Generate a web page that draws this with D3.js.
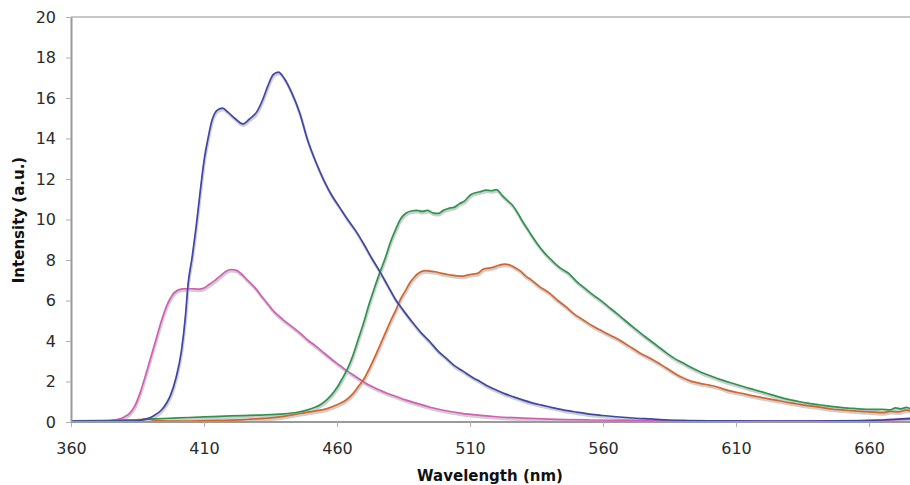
<!DOCTYPE html>
<html>
<head>
<meta charset="utf-8">
<script src="https://cdn.jsdelivr.net/npm/d3@7"></script>
<style>
  html, body { margin: 0; padding: 0; background: #fff; }
  svg { display: block; font-family: "DejaVu Sans", Verdana, sans-serif; }
</style>
</head>
<body>
<div id="chart"></div>
<script>
// tick labels
const xTicks = [360, 410, 460, 510, 560, 610, 660];
const yTicks = [0, 2, 4, 6, 8, 10, 12, 14, 16, 18, 20];

// series (wavelength nm, intensity a.u.)
const blueWl = [360, 370, 380, 384, 388, 391, 394, 396, 397.5, 399.5, 401.5, 403, 404, 405.5, 407, 408.5, 410, 411.5, 413, 415, 417, 419, 422, 424.5, 427, 430, 432, 434, 436, 438, 440, 443, 446, 449, 452, 455, 458, 461, 464, 467, 470, 473, 476, 479, 482, 485, 488.5, 492, 495, 498, 501, 504, 507.5, 511, 514, 517, 520, 523, 526, 530, 533, 537, 540, 545, 550, 555, 560, 565, 570, 578, 585, 590, 600, 620, 640, 655, 665, 676];
const blueI = [0.05, 0.05, 0.04, 0.05, 0.14, 0.3, 0.59, 0.95, 1.35, 2.2, 3.5, 5.2, 6.8, 8.1, 9.6, 11.3, 12.9, 14.0, 14.9, 15.4, 15.5, 15.3, 14.95, 14.72, 14.95, 15.35, 15.9, 16.6, 17.15, 17.28, 17.0, 16.25, 15.25, 13.9, 12.85, 11.95, 11.2, 10.6, 10.0, 9.45, 8.8, 8.1, 7.45, 6.75, 6.05, 5.5, 4.9, 4.35, 3.95, 3.5, 3.15, 2.8, 2.5, 2.2, 1.98, 1.75, 1.57, 1.4, 1.26, 1.08, 0.96, 0.83, 0.74, 0.6, 0.49, 0.39, 0.32, 0.26, 0.21, 0.15, 0.1, 0.08, 0.06, 0.05, 0.05, 0.06, 0.1, 0.18];

const pinkWl = [360, 370, 375, 378, 380, 382, 384, 386, 388, 390, 392, 394, 396, 398, 400, 402, 405, 408, 410, 412, 414, 416, 418, 420, 422, 424, 426, 428, 430, 432, 434, 436, 438, 440, 443, 446, 449, 452, 455, 458, 461, 464, 467, 470, 473, 476, 479, 482, 486, 490, 495, 500, 507, 514, 520, 530, 540, 555, 570, 590, 620, 645, 660, 676];
const pinkI = [0.02, 0.03, 0.07, 0.14, 0.25, 0.43, 0.8, 1.45, 2.3, 3.2, 4.1, 5.0, 5.75, 6.25, 6.5, 6.57, 6.58, 6.56, 6.62, 6.8, 6.98, 7.2, 7.42, 7.53, 7.5, 7.32, 7.05, 6.8, 6.5, 6.15, 5.83, 5.5, 5.25, 5.02, 4.72, 4.4, 4.05, 3.75, 3.42, 3.1, 2.8, 2.5, 2.25, 1.98, 1.76, 1.58, 1.41, 1.27, 1.08, 0.92, 0.73, 0.58, 0.43, 0.33, 0.26, 0.19, 0.14, 0.1, 0.08, 0.06, 0.05, 0.06, 0.08, 0.15];

const greenWl = [360, 370, 380, 385, 390, 400, 410, 420, 430, 440, 445, 449, 452, 454, 456, 458, 460, 462, 464, 466, 468, 470, 472, 474, 476, 478, 480, 482, 484, 486, 488, 490, 492, 494, 496, 498, 500, 502, 504, 506, 508, 510, 512, 514, 516, 518, 520, 522, 524, 526, 528, 530, 532, 535, 538, 541, 544, 547, 550, 553, 556, 559, 562, 565, 568, 571, 574, 577, 580, 584, 587, 590, 593, 596.5, 600, 603, 606, 609, 612, 615, 618, 621.5, 625, 628, 631, 634, 637, 640, 643, 646.5, 650, 653, 656, 659, 662, 665, 668, 670, 672, 674, 676];
const greenI = [0.06, 0.07, 0.09, 0.1, 0.15, 0.2, 0.25, 0.3, 0.34, 0.4, 0.48, 0.6, 0.74, 0.88, 1.08, 1.35, 1.7, 2.15, 2.65, 3.3, 4.1, 4.9, 5.8, 6.6, 7.35, 8.05, 8.85, 9.5, 10.05, 10.32, 10.42, 10.45, 10.4, 10.45, 10.33, 10.3, 10.45, 10.55, 10.6, 10.78, 10.92, 11.2, 11.32, 11.38, 11.45, 11.42, 11.48, 11.2, 10.95, 10.7, 10.3, 9.85, 9.45, 8.85, 8.35, 7.95, 7.6, 7.35, 6.95, 6.62, 6.3, 6.02, 5.7, 5.38, 5.05, 4.72, 4.4, 4.1, 3.8, 3.4, 3.13, 2.92, 2.7, 2.48, 2.3, 2.15, 2.02, 1.9, 1.78, 1.66, 1.55, 1.42, 1.28, 1.17, 1.08, 1.0, 0.93, 0.87, 0.82, 0.76, 0.71, 0.68, 0.65, 0.63, 0.62, 0.63, 0.6, 0.7, 0.65, 0.72, 0.62];

const orangeWl = [360, 370, 380, 386, 389, 392, 396, 405, 415, 425, 433, 440, 446, 452, 456, 460, 463, 466, 468, 470, 472, 474, 476, 478, 480, 482, 484, 486, 487.5, 489, 491, 493, 495, 497, 499, 501, 503, 505, 507, 509, 511, 513, 515, 517, 519, 521, 523, 525, 527, 529, 531, 533, 536, 540, 543, 546, 549, 552.6, 556, 559, 562, 565, 568, 571, 574, 577.7, 581, 584, 587, 590, 593, 596.5, 600, 603, 606, 609, 612, 615, 618, 621.5, 625, 628, 631, 634, 637, 640, 643, 646.5, 650, 653, 656, 659, 662, 665, 668, 671, 674, 676];
const orangeI = [0.04, 0.05, 0.08, 0.12, 0.14, 0.08, 0.04, 0.05, 0.08, 0.12, 0.18, 0.28, 0.42, 0.55, 0.65, 0.85, 1.05, 1.4, 1.75, 2.1, 2.6, 3.15, 3.75, 4.35, 4.95, 5.5, 6.1, 6.55, 6.9, 7.15, 7.38, 7.48, 7.45, 7.42, 7.35, 7.3, 7.25, 7.22, 7.2, 7.25, 7.3, 7.35, 7.55, 7.6, 7.65, 7.75, 7.8, 7.75, 7.62, 7.45, 7.2, 7.02, 6.7, 6.35, 6.0, 5.7, 5.35, 5.04, 4.75, 4.54, 4.33, 4.13, 3.9, 3.65, 3.4, 3.15, 2.9, 2.65, 2.4, 2.18, 2.02, 1.91, 1.82, 1.73, 1.6, 1.5, 1.42, 1.33, 1.25, 1.17, 1.08, 1.0, 0.93, 0.87, 0.81, 0.76, 0.7, 0.63, 0.6, 0.56, 0.53, 0.51, 0.49, 0.46, 0.52, 0.5, 0.59, 0.55];

const series = [
    {name: 'pink', wl: pinkWl, val: pinkI, color: '#d45db8'},
    {name: 'orange', wl: orangeWl, val: orangeI, color: '#d4652c'},
    {name: 'green', wl: greenWl, val: greenI, color: '#2e9550'},
    {name: 'blue', wl: blueWl, val: blueI, color: '#3f47a6'}
];

const svgWidth = 910;
const svgHeight = 485;
const chartMargin = {top: 17, right: 0, bottom: 63, left: 71};
const chartWidth = svgWidth - chartMargin.left - chartMargin.right;
const chartHeight = svgHeight - chartMargin.top - chartMargin.bottom;

const svg = d3.select('#chart')
    .append('svg')
    .attr('width', svgWidth)
    .attr('height', svgHeight);

const x = d3.scaleLinear().domain([360, 675.4]).range([0, chartWidth]);
const y = d3.scaleLinear().domain([0, 20]).range([chartHeight, 0]);

svg.append('defs').append('clipPath').attr('id', 'plot-clip')
    .append('rect')
    .attr('x', 0).attr('y', -5)
    .attr('width', chartWidth).attr('height', chartHeight + 5);

const g = svg.append('g')
    .attr('transform', `translate(${chartMargin.left},${chartMargin.top})`);

// top frame line
g.append('line')
    .attr('x1', 0).attr('x2', chartWidth)
    .attr('y1', 0).attr('y2', 0)
    .attr('stroke', '#b5b5b5')
    .attr('stroke-width', 1.5);

const line = d3.line()
    .x(d => x(d[0]))
    .y(d => y(d[1]))
    .curve(d3.curveMonotoneX);

const lines = g.append('g').attr('clip-path', 'url(#plot-clip)');

// soft grey shadow under each curve
lines.selectAll('.shadow')
    .data(series)
    .join('path')
    .classed('shadow', true)
    .attr('transform', 'translate(0.6,1.8)')
    .attr('fill', 'none')
    .attr('stroke', '#cfcfcf')
    .attr('stroke-width', 2.6)
    .attr('stroke-linejoin', 'round')
    .attr('d', s => line(d3.zip(s.wl, s.val)));

lines.selectAll('.curve')
    .data(series)
    .join('path')
    .classed('curve', true)
    .attr('fill', 'none')
    .attr('stroke', s => s.color)
    .attr('stroke-width', 1.7)
    .attr('stroke-linejoin', 'round')
    .attr('d', s => line(d3.zip(s.wl, s.val)));

// axes
const xAxis = g.append('g')
    .attr('transform', `translate(0,${chartHeight})`)
    .call(d3.axisBottom(x).tickValues(xTicks).tickSize(5).tickSizeOuter(0).tickPadding(16));

const yAxis = g.append('g')
    .call(d3.axisLeft(y).tickValues(yTicks).tickSize(5).tickSizeOuter(0).tickPadding(10));

[xAxis, yAxis].forEach(a => {
    a.select('.domain').attr('stroke', '#9a9a9a').attr('stroke-width', 2);
    a.selectAll('.tick line').attr('stroke', '#b0b0b0').attr('stroke-width', 1);
    a.selectAll('.tick text')
        .attr('fill', '#2b2b2b')
        .style('font-size', '16px')
        .style('font-family', '"DejaVu Sans", Verdana, sans-serif');
});
xAxis.select('.domain').attr('d', `M0,0H${chartWidth}`);

svg.append('text')
    .attr('x', 490)
    .attr('y', 481)
    .attr('text-anchor', 'middle')
    .attr('font-weight', 'bold')
    .attr('font-size', 15)
    .attr('fill', '#111')
    .text('Wavelength (nm)');

svg.append('text')
    .attr('transform', 'translate(24,220) rotate(-90)')
    .attr('text-anchor', 'middle')
    .attr('font-weight', 'bold')
    .attr('font-size', 15)
    .attr('fill', '#111')
    .text('Intensity (a.u.)');
</script>
</body>
</html>
